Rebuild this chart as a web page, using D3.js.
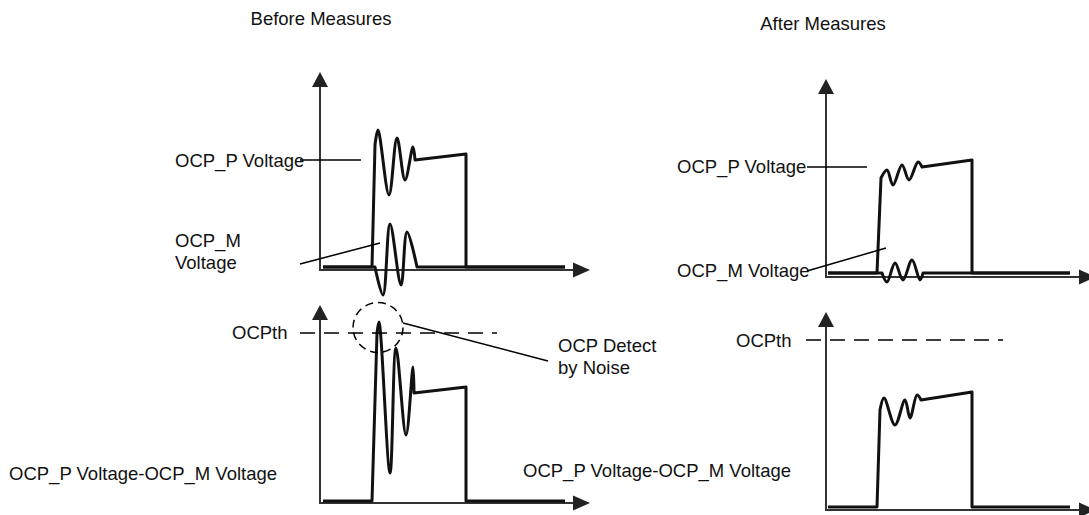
<!DOCTYPE html>
<meta charset="utf-8">
<style>
body { margin: 0; background: #fff; }
svg { display: block; font-family: "Liberation Sans", Arial, sans-serif; font-size: 18.5px; }
.axis { fill: none; stroke: #333; stroke-width: 2px; }
.arrow { fill: #222; }
.wave { fill: none; stroke: #111; stroke-width: 3px; stroke-linejoin: round; }
.leader { stroke: #000; stroke-width: 1.5px; }
.thresh { stroke: #000; stroke-width: 1.5px; stroke-dasharray: 15 9; }
.ring { fill: none; stroke: #000; stroke-width: 1.5px; stroke-dasharray: 8 5; }
text { fill: #111; }
</style>
<body>
<script src="https://cdn.jsdelivr.net/npm/d3@7"></script>
<script>
var width = 1089,
    height = 515;

// waveforms, [time, voltage]: straight rise, ringing part, straight tail
var beforeP_edge = [[0.3, 0.3], [5.2, 0.3], [5.5, 12.5]];
var beforeP_ring = [[5.5, 12.5], [5.8, 14.0], [6.9, 7.5], [7.7, 13.2], [8.5, 9.0], [9.3, 12.3], [9.5, 11.0]];
var beforeP_tail = [[9.5, 11.0], [14.6, 11.6], [14.6, 0.3], [24.5, 0.3]];

var beforeM_edge = [[0.3, 0.3], [5.5, 0.3]];
var beforeM_ring = [[5.5, 0.3], [6.3, -2.5], [7.0, 4.6], [8.1, -1.5], [8.7, 3.8], [9.7, 0.3]];
var beforeM_tail = [[9.7, 0.3], [24.5, 0.3]];

var beforeD_edge = [[0.3, 0.2], [5.2, 0.2], [5.7, 17.0]];
var beforeD_ring = [[5.7, 17.0], [5.9, 18.1], [7.0, 3.0], [7.6, 15.5], [8.6, 6.8], [9.3, 13.6], [9.4, 11.0]];
var beforeD_tail = [[9.4, 11.0], [14.6, 11.6], [14.6, 0.2], [24.5, 0.2]];

var afterP_edge = [[0.2, 0.4], [5.1, 0.4], [5.5, 9.9]];
var afterP_ring = [[5.5, 9.9], [6.1, 10.7], [6.7, 9.2], [7.6, 11.2], [8.3, 9.7], [9.2, 11.5], [9.6, 11.0]];
var afterP_tail = [[9.6, 11.0], [14.6, 11.7], [14.6, 0.4], [24.4, 0.4]];

var afterM_edge = [[0.2, 0.4], [5.6, 0.4]];
var afterM_ring = [[5.6, 0.4], [6.1, -0.5], [6.9, 1.4], [7.7, -0.3], [8.6, 1.7], [9.4, -0.3], [9.7, 0.4]];
var afterM_tail = [[9.7, 0.4], [24.4, 0.4]];

var afterD_edge = [[0.2, 0.3], [5.1, 0.3], [5.4, 10.0]];
var afterD_ring = [[5.4, 10.0], [5.8, 11.2], [6.9, 8.5], [7.9, 11.0], [8.4, 9.2], [9.1, 11.5], [9.5, 11.0]];
var afterD_tail = [[9.5, 11.0], [14.6, 11.8], [14.6, 0.3], [24.4, 0.3]];

var ocpth = 17.0,
    ocpthSpan = [-2.0, 17.7];
var noiseSpot = [5.8, 17.55],
    noiseRadius = 2.5;

var titles = ["Before Measures", "After Measures"];
var sumLabel = "OCP_P Voltage-OCP_M Voltage";

var svg = d3.select("body").append("svg")
    .attr("width", width)
    .attr("height", height);

function panel(x0, y0) {
  return {
    x: d3.scaleLinear().domain([0, 27]).range([x0, x0 + 270]),
    y: d3.scaleLinear().domain([0, 20]).range([y0, y0 - 200])
  };
}

var tl = panel(320, 270),
    bl = panel(320, 503),
    tr = panel(826, 277),
    br = panel(826, 510);

function drawAxes(p) {
  var ox = p.x(0), oy = p.y(0),
      top = p.y(19.8), right = p.x(27);
  svg.append("path").attr("class", "axis")
      .attr("d", "M" + ox + "," + (top + 14) + "V" + oy + "H" + (right - 16));
  svg.append("path").attr("class", "arrow")
      .attr("d", "M" + ox + "," + top + "L" + (ox - 8) + "," + (top + 15) + "L" + (ox + 8) + "," + (top + 15) + "Z");
  svg.append("path").attr("class", "arrow")
      .attr("d", "M" + right + "," + oy + "L" + (right - 17) + "," + (oy - 7.5) + "L" + (right - 17) + "," + (oy + 7.5) + "Z");
}

function drawWave(p, edge, ring, tail) {
  var straight = d3.line().x(function(d) { return p.x(d[0]); }).y(function(d) { return p.y(d[1]); });
  var smooth = d3.line().x(function(d) { return p.x(d[0]); }).y(function(d) { return p.y(d[1]); })
      .curve(d3.curveCatmullRom.alpha(0.5));
  svg.append("path").attr("class", "wave").attr("d", straight(edge) + smooth(ring).replace(/^M/, "L") + straight(tail).replace(/^M/, "L"));
}

function leader(p, a, b) {
  svg.append("line").attr("class", "leader")
      .attr("x1", p.x(a[0])).attr("y1", p.y(a[1]))
      .attr("x2", p.x(b[0])).attr("y2", p.y(b[1]));
}

function threshold(p) {
  svg.append("line").attr("class", "thresh")
      .attr("x1", p.x(ocpthSpan[0])).attr("x2", p.x(ocpthSpan[1]))
      .attr("y1", p.y(ocpth)).attr("y2", p.y(ocpth));
}

function label(x, y, s, anchor) {
  svg.append("text").attr("x", x).attr("y", y)
      .attr("text-anchor", anchor || "start").text(s);
}

[tl, bl, tr, br].forEach(drawAxes);

drawWave(tl, beforeP_edge, beforeP_ring, beforeP_tail);
drawWave(tl, beforeM_edge, beforeM_ring, beforeM_tail);
drawWave(bl, beforeD_edge, beforeD_ring, beforeD_tail);
drawWave(tr, afterP_edge, afterP_ring, afterP_tail);
drawWave(tr, afterM_edge, afterM_ring, afterM_tail);
drawWave(br, afterD_edge, afterD_ring, afterD_tail);

threshold(bl);
threshold(br);

svg.append("ellipse").attr("class", "ring")
    .attr("cx", bl.x(noiseSpot[0])).attr("cy", bl.y(noiseSpot[1]))
    .attr("rx", bl.x(noiseRadius) - bl.x(0)).attr("ry", bl.y(0) - bl.y(noiseRadius));

leader(tl, [-2.0, 11.0], [4.1, 11.0]);
leader(tl, [-2.0, 0.6], [6.0, 2.7]);
leader(bl, [8.3, 18.0], [22.8, 14.2]);
leader(tr, [-1.9, 11.0], [4.1, 11.0]);
leader(tr, [-1.9, 0.6], [6.0, 2.9]);

label(321, 25, titles[0], "middle");
label(823, 30, titles[1], "middle");

label(175, 167, "OCP_P Voltage");
label(175, 247, "OCP_M");
label(175, 269, "Voltage");
label(232, 339, "OCPth");
label(558, 352, "OCP Detect");
label(558, 374, "by Noise");
label(9, 480, sumLabel);

label(677, 173, "OCP_P Voltage");
label(677, 277, "OCP_M Voltage");
label(736, 347, "OCPth");
label(523, 477, sumLabel);
</script>
</body>
